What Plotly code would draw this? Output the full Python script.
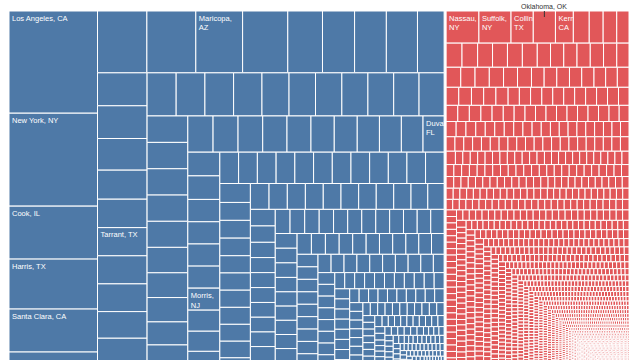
import plotly.graph_objects as go

DEM_BLUE = "#4e79a7"
REP_RED = "#e15759"
FONT = "Liberation Sans, Arial, sans-serif"

# ---- Democratic-won counties (cell sizes) ----
dem_named_labels = ["Los Angeles, CA", "New York, NY", "Cook, IL", "Harris, TX",
                    "Santa Clara, CA", "Maricopa,<br>AZ", "Tarrant, TX",
                    "Duval<br>FL", "Morris,<br>NJ"]
dem_named_values = [9000, 8184, 4664, 4400, 3784, 2880, 1390, 760, 700]

dem_other_values = [
    3344,
    3040, 3010, 2780, 2135, 1975, 1955, 1915, 1640,
    1625, 1615, 1561, 1433, 1403, 1385, 1368, 1314, 1284, 1270,
    1247, 1234, 1230, 1217, 1161, 1135, 1131, 1118, 1105, 1088, 1075,
    1072, 1068, 1066, 1064, 1056, 1031, 1003, 987, 934, 914, 912,
    910, 900, 889, 875, 864, 839, 828, 800, 790, 781,
    755, 750, 712, 707, 705, 702, 672, 641, 641, 590, 585,
    585, 585, 584, 584, 583, 583, 582, 582, 581, 580, 579, 576,
    545, 541, 535, 524, 524, 522, 516, 514, 505, 490, 489,
    480, 470, 465, 460, 457, 455, 452, 450, 445, 432, 420,
    410, 405, 378, 372, 370, 368, 366, 364, 362, 360, 358, 356,
    355, 352, 348, 345, 340, 338, 336, 334, 332, 329, 326, 321,
    320, 318, 316, 313, 310, 309, 308, 306, 302, 300, 298,
    296, 290, 285, 280, 278, 276, 274, 272, 268, 263, 261,
    261, 260, 260, 259, 258, 258, 257, 257, 257, 257,
    240, 238, 236, 235, 234, 234, 233, 232, 231, 229,
]
# small Democratic counties: (estimated cell size, number of cells) per band
dem_small_bands = [(196, 11), (160, 11), (150, 10), (130, 10), (115, 10), (95, 11),
                   (80, 12), (68, 12), (56, 15), (45, 16), (36, 18), (28, 20),
                   (21, 22), (15, 25), (10, 30), (6, 35), (3, 40)]

# ---- Republican-won counties ----
rep_named_labels = ["Nassau,<br>NY", "Suffolk,<br>NY", "Collin,<br>TX", "Oklahoma, OK", "Kern,<br>CA"]
rep_named_values = [1056, 1034, 716, 714, 576]
rep_callout = "Oklahoma, OK"   # labelled above the chart instead of inside

rep_other_values = [
    512, 448, 438, 394,
    384, 377, 360, 360, 360, 360, 320, 320, 320, 320, 320, 320, 295,
    294, 286, 286, 286, 280, 280, 254, 254, 254, 246, 246, 234, 234, 234,
    229, 229, 221, 221, 221, 203, 203, 203, 198, 198, 198, 198, 198, 198, 198, 190,
    189, 187, 187, 181, 181, 176, 176, 170, 170, 170, 170, 170, 170, 170, 170, 164, 159, 153,
    150, 150, 145, 145, 145, 145, 140, 140, 140, 140, 135, 135, 135, 135, 135, 135,
    130, 130, 130, 128,
]
rep_small_bands = [(128, 7), (126, 7), (124, 7), (99, 12), (94, 12), (93, 12), (89.5, 13),
                   (85, 13), (79, 13), (75, 14), (70, 14), (69.5, 14), (68.5, 14),
                   (66.8, 55), (52.4, 59), (49.1, 58), (41.8, 59), (35.9, 60), (33.2, 59),
                   (28, 61), (24.8, 62), (21.8, 62), (19, 63), (16.4, 65), (15.2, 64),
                   (13.4, 64), (11.7, 66), (10.7, 65), (9.7, 65), (8.75, 65), (7.85, 65),
                   (7.0, 66), (6.2, 67), (5.45, 68), (4.75, 69), (4.1, 71), (3.8, 70),
                   (3.0, 904)]


def expand(bands):
    out = []
    for v, n in bands:
        out.extend([v] * n)
    return out


dem_values = dem_named_values + dem_other_values + expand(dem_small_bands)
dem_text = dem_named_labels + [""] * (len(dem_values) - len(dem_named_labels))
rep_values = rep_named_values + rep_other_values + expand(rep_small_bands)
rep_text = [("" if t == rep_callout else t) for t in rep_named_labels]
rep_text += [""] * (len(rep_values) - len(rep_text))

ids = ["root", "dem", "rep"]
parents = ["", "root", "root"]
values = [0, 0, 0]
texts = ["", "", ""]
colors = ["white", "white", "white"]
widths = [0, 0, 0]
for i, (v, t) in enumerate(zip(dem_values, dem_text)):
    ids.append(f"d{i}"); parents.append("dem"); values.append(v); texts.append(t)
    colors.append(DEM_BLUE); widths.append(1)
for i, (v, t) in enumerate(zip(rep_values, rep_text)):
    ids.append(f"r{i}"); parents.append("rep"); values.append(v); texts.append(t)
    colors.append(REP_RED); widths.append(1)

W, H = 640, 400
ML, MR, MT, MB = 7, 9, 11, 10
PAD = 1

fig = go.Figure(go.Treemap(
    ids=ids, labels=ids, parents=parents, values=values,
    branchvalues="remainder", sort=True,
    text=texts, textinfo="text", textposition="top left",
    textfont=dict(family=FONT, size=8, color="white"),
    marker=dict(colors=colors, line=dict(color="white", width=widths),
                pad=dict(t=0, l=PAD, r=PAD, b=0)),
    tiling=dict(packing="squarify", squarifyratio=1.618, pad=0),
    pathbar=dict(visible=False), hoverinfo="skip",
))

# position of the call-out label, derived from the data
dem_total = sum(dem_values)
rep_total = sum(rep_values)
frac = dem_total / (dem_total + rep_total)
pw = W - ML - MR
ph = H - MT - MB
inner = pw - 2 * PAD
rep_x0 = PAD + frac * inner + PAD
rep_w = (1 - frac) * inner - 2 * PAD
row1 = sorted(rep_values, reverse=True)[:9]
ok_val = rep_named_values[rep_named_labels.index(rep_callout)]
before = sum(v for v in row1 if v > ok_val)
x_px = rep_x0 + rep_w * (before + ok_val / 2) / sum(row1)

fig.add_annotation(
    x=x_px / pw, y=1 - 6 / ph, xref="paper", yref="paper",
    text=rep_callout, showarrow=True, arrowhead=0, arrowwidth=1,
    arrowcolor="#333333", ax=0, ay=-11, standoff=0,
    font=dict(family=FONT, size=7, color="#333333"),
)

fig.update_layout(
    width=W, height=H,
    margin=dict(l=ML, r=MR, t=MT, b=MB),
    paper_bgcolor="white",
    showlegend=False,
    uniformtext=dict(minsize=7.5, mode="show"),
)

fig.write_html("out.html", config={"displayModeBar": False},
               post_script="document.body.style.margin='0px';")
